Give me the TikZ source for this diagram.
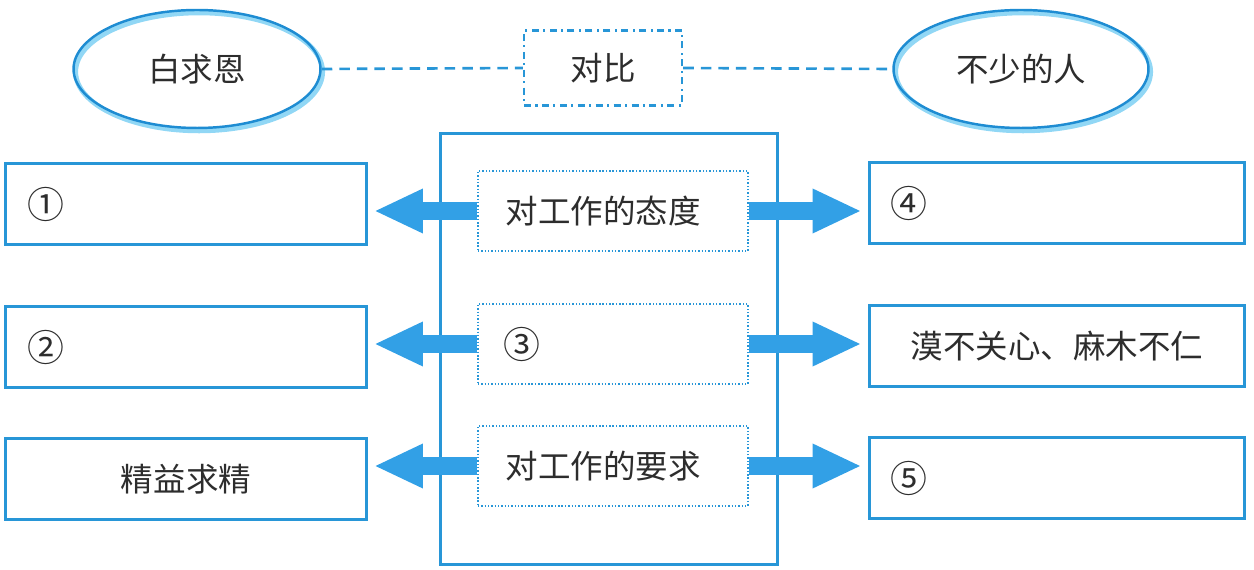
\documentclass[tikz,border=0pt]{standalone}
\usepackage{fontspec}
\newfontfamily\cjk{Noto Sans CJK SC}
\usetikzlibrary{positioning,shapes.geometric,arrows.meta}
\definecolor{lineblue}{RGB}{40,150,215}
\definecolor{ellblue}{RGB}{30,140,210}
\definecolor{shadowblue}{RGB}{145,215,245}
\definecolor{arrowblue}{RGB}{50,160,230}
\definecolor{txtgray}{RGB}{45,45,45}
\tikzset{
    txt/.style={inner sep=0pt, text=txtgray, font=\cjk\fontsize{18.5pt}{22pt}\selectfont},
    num/.style={txt, font=\cjk\fontsize{21pt}{24pt}\selectfont},
    ell/.style={ellipse, draw=ellblue, line width=1.4pt, inner sep=0pt, txt,
        preaction={draw=shadowblue, line width=2.8pt, transform canvas={shift={(1.2pt,-1.6pt)}}}},
    cmpbox/.style={draw=lineblue, line width=1.4pt, dash pattern=on 4pt off 2.5pt on 1.2pt off 2.5pt,
        minimum width=3.16cm, minimum height=1.5cm, txt},
    bigbox/.style={draw=lineblue, line width=1.7pt, minimum width=6.76cm, minimum height=8.64cm},
    inbox/.style={draw=lineblue, line width=0.9pt, dash pattern=on 0.8pt off 1.1pt,
        minimum width=5.4cm, minimum height=1.6cm},
    sidebox/.style={draw=lineblue, line width=1.7pt, minimum height=1.62cm},
    link/.style={draw=lineblue, line width=1.5pt, dash pattern=on 6pt off 4pt},
    fat/.style={draw=arrowblue, line width=0.36cm, shorten >=0.12cm,
        -{Triangle[length=0.98cm, width=0.82cm]}}
}
\begin{document}
\begin{tikzpicture}[x=0.02cm, y=-0.02cm]
                \useasboundingbox (0,0) rectangle (1254,570);
                \node [ell, minimum width=4.94cm, minimum height=2.36cm] (bqe) at (197,69) {白求恩};
                \node [cmpbox] (cmp) at (603,68) {对比};
                \node [ell, minimum width=5.1cm, minimum height=2.36cm] (bsr) at (1021,69) {不少的人};
                \draw [link] (bqe.east) to (cmp.west);
                \draw [link] (cmp.east) to (bsr.west);
                \node [bigbox] (mid) at (609,349) {};
                \node [inbox] (t1) at (613,211) {};
                \node [inbox] (t2) at (613,344) {};
                \node [inbox] (t3) at (613,466) {};
                \node [sidebox, minimum width=7.22cm] (l1) at (186,204) {};
                \node [sidebox, minimum width=7.22cm] (l2) at (186,347) {};
                \node [sidebox, minimum width=7.22cm] (l3) at (186,479) {};
                \node [sidebox, minimum width=7.52cm] (r1) at (1057,203) {};
                \node [sidebox, minimum width=7.52cm] (r2) at (1057,346) {};
                \node [sidebox, minimum width=7.52cm] (r3) at (1057,478) {};
                \node [txt, right=0.56cm of t1.west] {对工作的态度};
                \node [num, right=0.52cm of t2.west] {③};
                \node [txt, right=0.56cm of t3.west] {对工作的要求};
                \node [num, right=0.46cm of l1.west] {①};
                \node [num, right=0.46cm of l2.west] {②};
                \node [txt] at (l3) {精益求精};
                \node [num, right=0.46cm of r1.west] {④};
                \node [txt] at (r2) {漠不关心、麻木不仁};
                \node [num, right=0.46cm of r3.west] {⑤};
                \draw [fat] (t1.west) to (t1.west -| l1.east);
                \draw [fat] (t2.west) to (t2.west -| l2.east);
                \draw [fat] (t3.west) to (t3.west -| l3.east);
                \draw [fat] (t1.east) to (t1.east -| r1.west);
                \draw [fat] (t2.east) to (t2.east -| r2.west);
                \draw [fat] (t3.east) to (t3.east -| r3.west);
            \end{tikzpicture}
\end{document}
